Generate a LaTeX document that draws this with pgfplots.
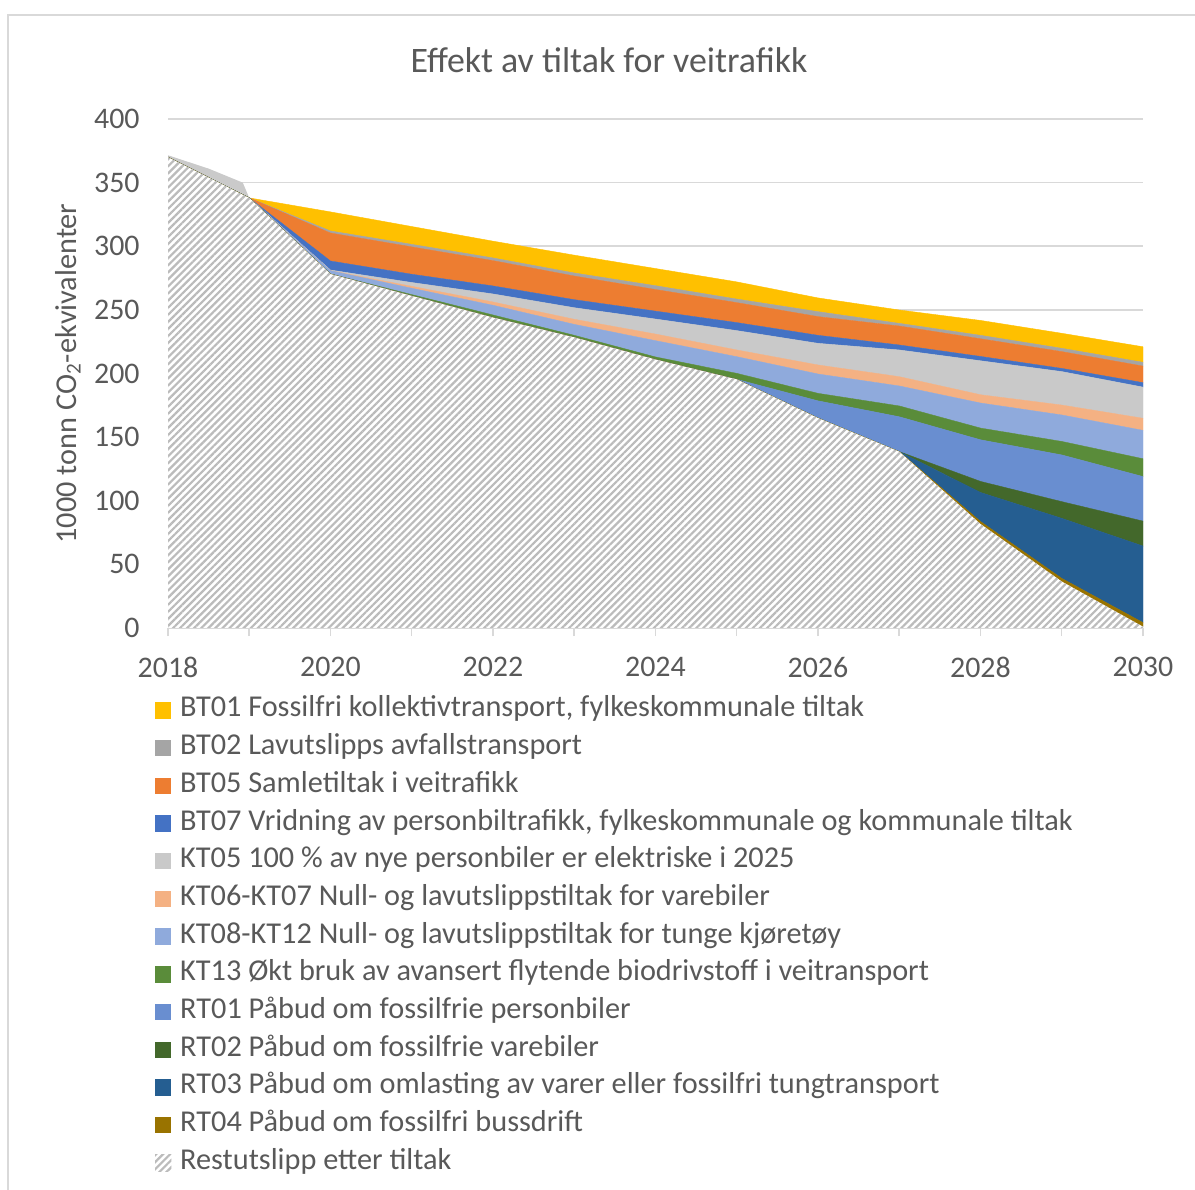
\documentclass[border=0pt]{standalone}
\usepackage{fontspec}
\setmainfont{Carlito}
\usepackage{pgfplots}
\pgfplotsset{compat=1.18}
\usepackage{pgfplotstable}
\usetikzlibrary{patterns.meta}
\definecolor{cBTa}{HTML}{FFC000}
\definecolor{cBTb}{HTML}{A5A5A5}
\definecolor{cBTe}{HTML}{ED7D31}
\definecolor{cBTg}{HTML}{4472C4}
\definecolor{cKTe}{HTML}{C9C9C9}
\definecolor{cKTf}{HTML}{F4B183}
\definecolor{cKTh}{HTML}{8FAADC}
\definecolor{cKTm}{HTML}{5A8C3A}
\definecolor{cRTa}{HTML}{698ED0}
\definecolor{cRTb}{HTML}{43682B}
\definecolor{cRTc}{HTML}{255E91}
\definecolor{cRTd}{HTML}{997300}
\definecolor{hatchgray}{HTML}{BBBBBB}
\definecolor{polygray}{HTML}{CACACA}
\definecolor{gridgray}{HTML}{D9D9D9}
\definecolor{textgray}{HTML}{595959}

\pgfplotstableread{
year resid rt04 rt03 rt02 rt01 kt13 kt08 kt06 kt05 bt07 bt05 bt02 bt01
2018 370   0   0    0    0    0    0    0   0    0   0    0   0
2019 338   0   0    0    0    0    0    0   0    0   0    0   0
2020 278.2 0   0    0    0    0    2.6  0   0.5  7.1 22   1.6 15
2021 261   0   0    0    0    1    5    1.5 3    6.5 21.5 2   14
2022 244   0   0    0    0    2    7.6  2.6 6.3  6.3 19.9 2.1 13.2
2023 228.4 0   0    0    0    1.6  8.6  4   9.1  6.3 18.6 2.4 14
2024 211   0   0    0    0    2    12.8 5.2 11.8 6.2 17   3   13.5
2025 195.4 0   0    0    0    4.7  13.1 5.3 15.2 6.3 15.7 2.8 13.5
2026 165   0   0    0    13.5 5.9  15.2 7.1 17   6.3 14.7 3.9 10.8
2027 138.6 0   0    0    27.4 8.5  15.7 7.3 21   3.9 14.9 2.1 10.5
2028 81.7  2   22.8 8.7  32.7 9.2  19.7 6.5 26.7 3.4 13.9 2.7 11.7
2029 36.5  2.5 47.2 13.1 36.7 10.6 20.8 7.8 26.3 2.5 13.2 2.6 11.8
2030 1     3.2 60.2 19.6 35   14   22.3 9.5 24.5 3.5 13   3   12.2
}\data

\pgfplotsset{
  common/.style={
    scale only axis, width=487.5bp, height=254.5bp,
    at={(84bp,281bp)}, anchor=south west,
    xmin=2018, xmax=2030, ymin=0, ymax=400,
    ytick={0,50,...,400},
  },
}

\begin{document}
\begin{tikzpicture}
\useasboundingbox (0,0) rectangle (597.5bp,595bp);
\draw[gridgray, line width=0.75bp] (4bp,0) -- (4bp,587.5bp) -- (597.5bp,587.5bp);
\node[font=\fontsize{18}{21}\selectfont, text=textgray] at (304.5bp,565bp) {Effekt av tiltak for veitrafikk};

% background axis: grid and the thin grey wedge 2018-2019
\begin{axis}[common,
  ymajorgrids, grid style={gridgray, line width=0.75bp},
  xtick=\empty, yticklabels={}, major tick length=0pt,
  tick style={draw=none}, axis line style={draw=none}]
\addplot[fill=polygray, draw=none] coordinates {(2018,371.5) (2018.5,361) (2018.92,350) (2019,338) (2019,325) (2018,357) (2018,371.5)};
\end{axis}

\begin{axis}[common,
  axis lines*=left,
  x axis line style={draw=gridgray, line width=0.75bp},
  y axis line style={draw=none},
  xtick={2018,...,2030},
  xticklabels={2018,,2020,,2022,,2024,,2026,,2028,,2030},
  xtick style={draw=gridgray, line width=0.75bp},
  ytick style={draw=none},
  tick align=outside,
  major tick length=4bp,
  tick label style={font=\fontsize{15}{17}\selectfont, text=textgray},
  /pgf/number format/assume math mode=true,
  yticklabel style={inner xsep=0pt, xshift=-10bp},
  xticklabel style={inner sep=0pt, yshift=-10.5bp},
  ylabel={1000 tonn CO\textsubscript{2}-ekvivalenter},
  every axis y label/.style={at={(axis description cs:-0.1026,0.5)}, rotate=90, anchor=center},
  label style={font=\fontsize{15.2}{17}\selectfont, text=textgray},
  stack plots=y,
  reverse legend,
  legend cell align=left,
  legend style={at={(-0.0133,-0.1375)}, anchor=north west, draw=none, fill=none,
    inner sep=0pt, outer sep=0pt, row sep=6.35bp, column sep=4.4bp,
    font=\fontsize{15.2}{17}\selectfont, text=textgray,
    nodes={inner sep=0pt, text height=9.5bp, text depth=3bp}},
  legend image code/.code={\fill[#1, draw=none] (0bp,-4.1bp) rectangle (8.2bp,4.1bp);},
]
\addplot[draw=none, preaction={fill=white}, pattern={Lines[angle=45,distance=2.5bp,line width=1.1bp]}, pattern color=hatchgray] table[x=year,y=resid]{\data} \closedcycle;
\addlegendentry{Restutslipp etter tiltak}
\addplot[fill=cRTd, draw=cRTd, line width=0.2bp] table[x=year,y=rt04]{\data} \closedcycle;
\addlegendentry{RT04 Påbud om fossilfri bussdrift}
\addplot[fill=cRTc, draw=cRTc, line width=0.2bp] table[x=year,y=rt03]{\data} \closedcycle;
\addlegendentry{RT03 Påbud om omlasting av varer eller fossilfri tungtransport}
\addplot[fill=cRTb, draw=cRTb, line width=0.2bp] table[x=year,y=rt02]{\data} \closedcycle;
\addlegendentry{RT02 Påbud om fossilfrie varebiler}
\addplot[fill=cRTa, draw=cRTa, line width=0.2bp] table[x=year,y=rt01]{\data} \closedcycle;
\addlegendentry{RT01 Påbud om fossilfrie personbiler}
\addplot[fill=cKTm, draw=cKTm, line width=0.2bp] table[x=year,y=kt13]{\data} \closedcycle;
\addlegendentry{KT13 Økt bruk av avansert flytende biodrivstoff i veitransport}
\addplot[fill=cKTh, draw=cKTh, line width=0.2bp] table[x=year,y=kt08]{\data} \closedcycle;
\addlegendentry{KT08-KT12 Null- og lavutslippstiltak for tunge kjøretøy}
\addplot[fill=cKTf, draw=cKTf, line width=0.2bp] table[x=year,y=kt06]{\data} \closedcycle;
\addlegendentry{KT06-KT07 Null- og lavutslippstiltak for varebiler}
\addplot[fill=cKTe, draw=cKTe, line width=0.2bp] table[x=year,y=kt05]{\data} \closedcycle;
\addlegendentry{KT05 100 \% av nye personbiler er elektriske i 2025}
\addplot[fill=cBTg, draw=cBTg, line width=0.2bp] table[x=year,y=bt07]{\data} \closedcycle;
\addlegendentry{BT07 Vridning av personbiltrafikk, fylkeskommunale og kommunale tiltak}
\addplot[fill=cBTe, draw=cBTe, line width=0.2bp] table[x=year,y=bt05]{\data} \closedcycle;
\addlegendentry{BT05 Samletiltak i veitrafikk}
\addplot[fill=cBTb, draw=cBTb, line width=0.2bp] table[x=year,y=bt02]{\data} \closedcycle;
\addlegendentry{BT02 Lavutslipps avfallstransport}
\addplot[fill=cBTa, draw=cBTa, line width=0.2bp] table[x=year,y=bt01]{\data} \closedcycle;
\addlegendentry{BT01 Fossilfri kollektivtransport, fylkeskommunale tiltak}
\end{axis}
\end{tikzpicture}
\end{document}
